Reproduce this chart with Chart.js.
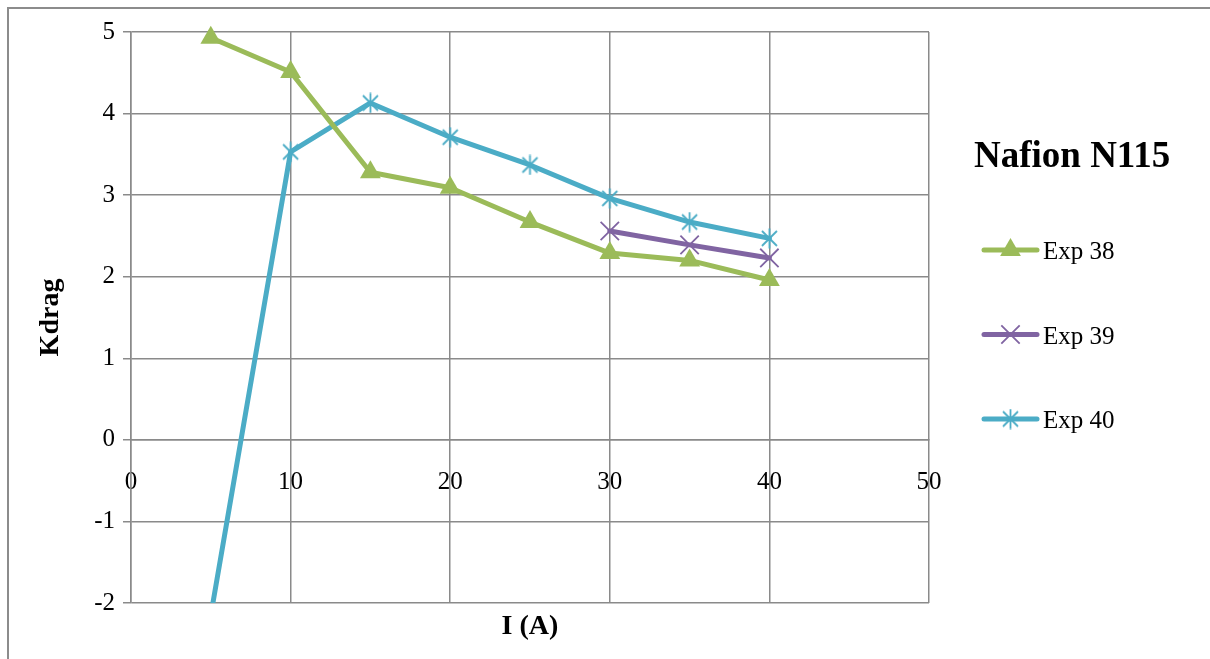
<!DOCTYPE html>
<html>
<head>
<meta charset="utf-8">
<title>Kdrag - Nafion N115</title>
<script src="https://cdn.jsdelivr.net/npm/chart.js@4.4.1/dist/chart.umd.min.js"></script>
<style>
    html, body {
        margin: 0;
        padding: 0;
        background: #ffffff;
        overflow: hidden;
    }
    #frame {
        position: absolute;
        left: 7px;
        top: 7px;
        width: 1300px;
        height: 800px;
        border: 2px solid #8c8c8c;
    }
    #kdragChart {
        position: absolute;
        left: 0;
        top: 0;
    }
</style>
</head>
<body>
<div id="frame"></div>
<canvas id="kdragChart" width="1210" height="659"></canvas>
<script>
// values
const currents = [5, 10, 15, 20, 25, 30, 35, 40];
const currents39 = [30, 35, 40];
const exp38 = [4.93, 4.51, 3.28, 3.09, 2.67, 2.29, 2.20, 1.96];
const exp39 = [2.56, 2.39, 2.23];
const exp40 = [-2.15, 3.53, 4.13, 3.71, 3.37, 2.96, 2.67, 2.47];
const seriesNames = ['Exp 38', 'Exp 39', 'Exp 40'];
const xTicks = [0, 10, 20, 30, 40, 50];
const yTicks = [-2, -1, 0, 1, 2, 3, 4, 5];
const legendTitle = 'Nafion N115';

const green = '#9bbb59';
const purple = '#8064a2';
const blue = '#4bacc6';
const gridColor = '#8a8a8a';

function toPoints(xs, ys) {
    return xs.map((x, i) => ({x: x, y: ys[i]}));
}

// excel style star marker: an x with a vertical bar
function starMarker(color) {
    const c = document.createElement('canvas');
    c.width = 21;
    c.height = 21;
    const g = c.getContext('2d');
    g.strokeStyle = color;
    g.lineWidth = 1.8;
    g.beginPath();
    g.moveTo(10.5, 0.5); g.lineTo(10.5, 20.5);
    g.moveTo(3, 3); g.lineTo(18, 18);
    g.moveTo(18, 3); g.lineTo(3, 18);
    g.stroke();
    return c;
}

function makeSeries(label, data, color, style, radius) {
    return {
        label: label,
        data: data,
        borderColor: color,
        backgroundColor: color,
        borderWidth: 5,
        borderJoinStyle: 'round',
        borderCapStyle: 'round',
        pointStyle: style,
        pointRadius: radius,
        pointHoverRadius: radius,
        pointBackgroundColor: color,
        pointBorderColor: color,
        pointBorderWidth: style === 'triangle' ? 0 : 1.8,
        tension: 0,
        clip: {left: 20, top: 20, right: 20, bottom: 0}
    };
}

// title and legend drawn at the right, like the excel one
const sideLegend = {
    id: 'sideLegend',
    afterDraw(chart) {
        const ctx = chart.ctx;
        ctx.save();
        ctx.fillStyle = '#000';
        ctx.textBaseline = 'alphabetic';
        ctx.textAlign = 'left';
        ctx.font = 'bold 37px "Liberation Serif"';
        ctx.fillText(legendTitle, 974, 167);
        ctx.font = '25px "Liberation Serif"';
        chart.data.datasets.forEach((ds, i) => {
            const y = 250 + i * 84.5;
            ctx.strokeStyle = ds.borderColor;
            ctx.lineWidth = ds.borderWidth;
            ctx.lineCap = 'round';
            ctx.beginPath();
            ctx.moveTo(984, y);
            ctx.lineTo(1037, y);
            ctx.stroke();
            ctx.fillStyle = ds.pointBackgroundColor;
            ctx.strokeStyle = ds.pointBorderColor;
            ctx.lineWidth = ds.pointBorderWidth;
            ctx.lineCap = 'butt';
            Chart.helpers.drawPoint(ctx, {
                pointStyle: ds.pointStyle,
                radius: ds.pointRadius,
                borderWidth: ds.pointBorderWidth,
                rotation: 0
            }, 1010.5, y);
            ctx.fillStyle = '#000';
            ctx.fillText(ds.label, 1043, y + 9);
        });
        ctx.restore();
    }
};

function kdragChart(id) {
    Chart.defaults.font.family = '"Liberation Serif", "Times New Roman", serif';
    Chart.defaults.color = '#000';
    const data = {
        datasets: [
            makeSeries(seriesNames[0], toPoints(currents, exp38), green, 'triangle', 12),
            makeSeries(seriesNames[1], toPoints(currents39, exp39), purple, 'crossRot', 13),
            makeSeries(seriesNames[2], toPoints(currents, exp40), blue, starMarker(blue), 10)
        ]
    };
    const config = {
        type: 'line',
        data: data,
        plugins: [sideLegend],
        options: {
            responsive: false,
            animation: false,
            events: [],
            layout: {
                padding: {left: 0, top: 32, right: 281, bottom: 56}
            },
            plugins: {
                legend: {display: false},
                tooltip: {enabled: false}
            },
            scales: {
                x: {
                    type: 'linear',
                    position: {y: 0},
                    min: xTicks[0],
                    max: xTicks[xTicks.length - 1],
                    afterBuildTicks: s => { s.ticks = xTicks.map(v => ({value: v})); },
                    afterFit: s => { s.height = 204; },
                    grid: {color: gridColor, lineWidth: 1.5, drawTicks: false},
                    border: {color: gridColor, width: 1.5},
                    ticks: {
                        padding: 28,
                        maxRotation: 0,
                        font: {size: 25}
                    },
                    title: {
                        display: true,
                        text: 'I (A)',
                        font: {size: 28, weight: 'bold'},
                        padding: 0
                    }
                },
                y: {
                    type: 'linear',
                    min: yTicks[0],
                    max: yTicks[yTicks.length - 1],
                    afterBuildTicks: s => { s.ticks = yTicks.map(v => ({value: v})); },
                    afterFit: s => { s.width = 131; },
                    grid: {color: gridColor, lineWidth: 1.5, tickLength: 8},
                    border: {color: gridColor, width: 1.5},
                    ticks: {
                        padding: 8,
                        font: {size: 25}
                    },
                    title: {
                        display: true,
                        text: 'Kdrag',
                        font: {size: 28, weight: 'bold'},
                        padding: {top: 34, bottom: 0}
                    }
                }
            }
        }
    };
    let ctx = document.getElementById(id).getContext("2d")
    new Chart(ctx, config)
}

kdragChart('kdragChart');
</script>
</body>
</html>
